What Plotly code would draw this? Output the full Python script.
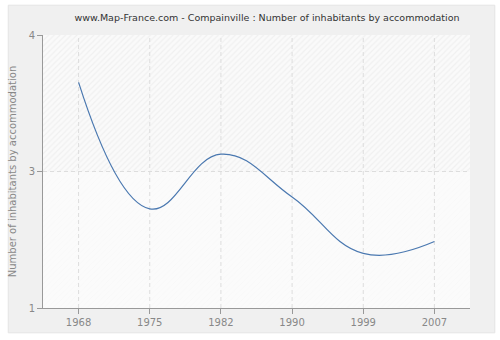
import plotly.graph_objects as go

years = ["1968", "1975", "1982", "1990", "1999", "2007"]
values = [3.48, 2.09, 2.69, 2.22, 1.60, 1.73]
y_tick_vals = [1, 2.5, 4]
y_tick_text = ["1", "3", "4"]

idx = list(range(len(years)))
x_lo, x_hi = -0.5, len(years) - 0.5
y_lo, y_hi = 1, 4
mid = y_tick_vals[1]

fig = go.Figure()

# hatched background bands
fig.add_trace(go.Scatter(
    x=[x_lo, x_hi, x_hi, x_lo, x_lo], y=[mid, mid, y_hi, y_hi, mid],
    mode="lines", line=dict(width=0), fill="toself",
    fillpattern=dict(shape="/", fgcolor="#e6e6e6", bgcolor="#fafafa", size=4, solidity=0.3),
    hoverinfo="skip", showlegend=False))
fig.add_trace(go.Scatter(
    x=[x_lo, x_hi, x_hi, x_lo, x_lo], y=[y_lo, y_lo, mid, mid, y_lo],
    mode="lines", line=dict(width=0), fill="toself",
    fillpattern=dict(shape="/", fgcolor="#f3f3f3", bgcolor="#fbfbfb", size=4, solidity=0.2),
    hoverinfo="skip", showlegend=False))

# dashed grid drawn over the hatching
grid_x, grid_y = [], []
for i in idx:
    grid_x += [i, i, None]
    grid_y += [y_lo, y_hi, None]
grid_x += [x_lo, x_hi, None]
grid_y += [mid, mid, None]
fig.add_trace(go.Scatter(
    x=grid_x, y=grid_y, mode="lines",
    line=dict(color="#dddddd", width=1, dash="4px,3px"),
    hoverinfo="skip", showlegend=False))

fig.add_trace(go.Scatter(
    x=idx, y=values, mode="lines",
    line=dict(color="#4a78b0", width=1.2, shape="spline", smoothing=1.2),
    showlegend=False))

# outer frame
x0p, x1p = -35 / 430, 455 / 430
y0p, y1p = -25 / 275, 305 / 275
fig.add_shape(type="rect", xref="paper", yref="paper",
              x0=x0p, x1=x1p, y0=y0p, y1=y1p,
              fillcolor="#f0f0f0", line=dict(color="#e4e4e4", width=1), layer="below")

fig.update_layout(
    width=500, height=340,
    margin=dict(l=40, r=30, t=35, b=30),
    paper_bgcolor="white", plot_bgcolor="rgba(0,0,0,0)",
    title=dict(text="www.Map-France.com - Compainville : Number of inhabitants by accommodation",
               x=267 / 500, xanchor="center", y=1 - 18 / 340, yanchor="middle",
               font=dict(family="DejaVu Sans", size=9.5, color="#333333")),
    font=dict(family="DejaVu Sans", size=10, color="#888888"),
)
axis_style = dict(
    showline=True, linecolor="#999999", linewidth=1,
    ticks="outside", ticklen=5, tickcolor="#999999",
    showgrid=False, zeroline=False, layer="above traces",
    tickfont=dict(color="#888888", size=10))
fig.update_xaxes(range=[x_lo, x_hi], tickvals=idx, ticktext=years, **axis_style)
fig.update_yaxes(
    range=[y_lo, y_hi], tickvals=y_tick_vals, ticktext=y_tick_text, **axis_style,
    title=dict(text="Number of inhabitants by accommodation", standoff=10,
               font=dict(color="#888888", size=10)))

fig.write_html("out.html")
